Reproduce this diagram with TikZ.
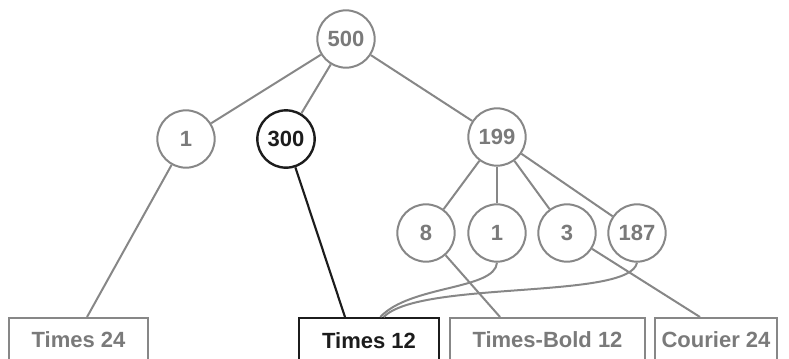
\documentclass[tikz,border=0pt]{standalone}
\usepackage{fontspec}
\setmainfont{Liberation Sans}
\definecolor{treegray}{RGB}{135,135,135}
\definecolor{labelgray}{RGB}{122,122,122}
\definecolor{treeblack}{RGB}{28,28,28}
\tikzset{
  knot/.style={circle, draw=treegray, line width=1.5pt, minimum size=43pt, inner sep=0pt, text=labelgray, font=\fontsize{16.5}{19}\selectfont\bfseries},
  hot/.style={draw=treeblack, text=treeblack, line width=1.8pt},
  leaf/.style={rectangle, draw=treegray, line width=1.5pt, anchor=north, minimum height=33pt, inner sep=0pt, text=labelgray, font=\fontsize{16.5}{19}\selectfont\bfseries},
  wire/.style={draw=treegray, line width=1.5pt},
  hotwire/.style={draw=treeblack, line width=1.6pt}
}
\begin{document}
\begin{tikzpicture}[x=0.75pt, y=-0.75pt]
\useasboundingbox (0,0) rectangle (789,358);
\node[knot] (r) at (346, 39) {500};
\node[knot] (a) at (186, 139) {1};
\node[knot, hot] (b) at (286, 139) {300};
\node[knot] (c) at (497, 137) {199};
\node[knot] (c1) at (426, 233) {8};
\node[knot] (c2) at (497, 233) {1};
\node[knot] (c3) at (567, 233) {3};
\node[knot] (c4) at (637, 233) {187};
\node[leaf, minimum width=104pt] (t24) at (78.5, 317) {Times 24};
\node[leaf, hot, minimum width=105pt] (t12) at (369, 317) {Times 12};
\node[leaf, minimum width=146pt] (tb12) at (547.5, 317) {Times-Bold 12};
\node[leaf, minimum width=91.5pt] (c24) at (716, 317) {Courier 24};
\draw[wire] (r) -- (a);
\draw[wire] (r) -- (b);
\draw[wire] (r) -- (c);
\draw[wire] (c) -- (c1);
\draw[wire] (c) -- (c2);
\draw[wire] (c) -- (c3);
\draw[wire] (c) -- (c4);
\draw[wire] (a) -- ([xshift=6.4pt]t24.north);
\draw[hotwire] (b) -- ([xshift=-18pt]t12.north);
\draw[wire] (c1) -- ([xshift=-35.6pt]tb12.north);
\draw[wire] (c3) -- ([xshift=-12pt]c24.north);
\draw[wire] (c2.south) .. controls (495, 290) and (410, 285) .. ([xshift=8.5pt]t12.north);
\draw[wire] (c4.south) .. controls (630, 300) and (420, 280) .. ([xshift=11pt]t12.north);
\end{tikzpicture}
\end{document}
